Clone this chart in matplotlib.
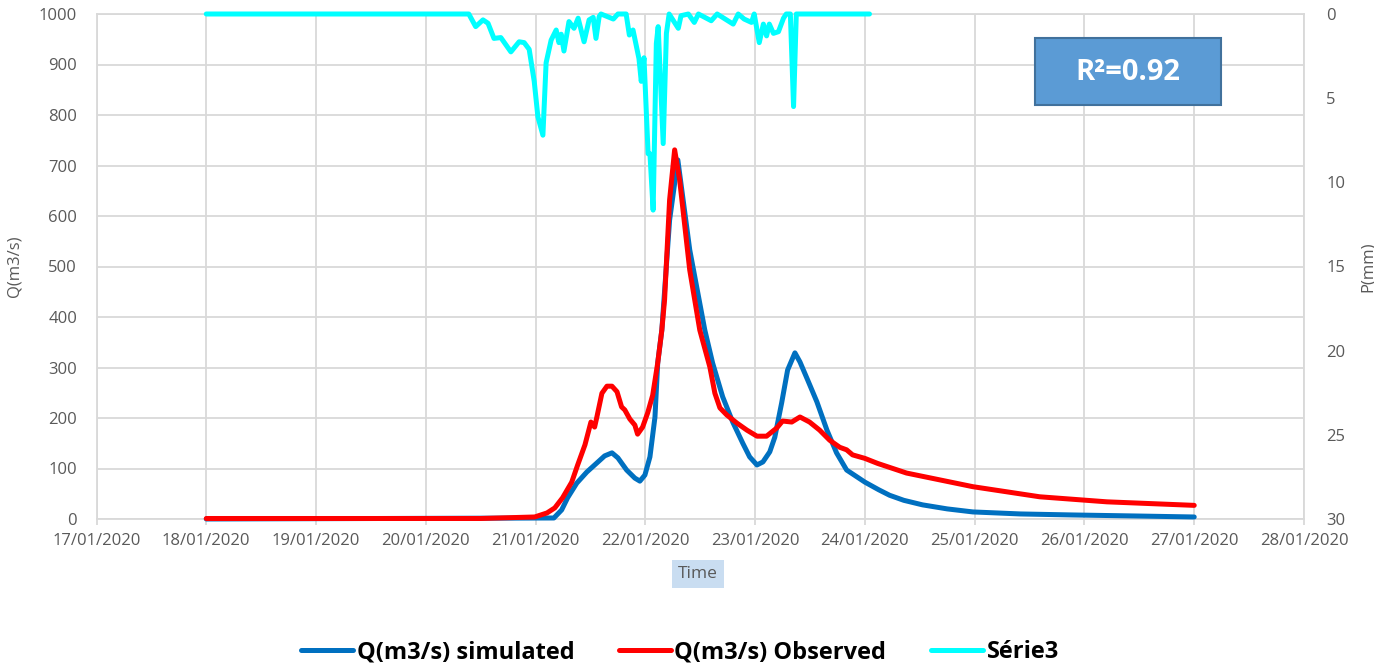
import matplotlib
matplotlib.use("Agg")
import matplotlib.pyplot as plt
import matplotlib.dates as mdates
import matplotlib.patches as mpatches
import pandas as pd

plt.rcParams['font.family'] = ['Open Sans', 'DejaVu Sans']

# ---------------- data ----------------
base = pd.Timestamp("2020-01-20 00:00")  # hours are offsets from this

obs_hours = [-48, 12, 23.8, 26.5, 28.2, 29.9, 31.9, 33.2, 34.8, 36.1, 36.9, 37.4, 38.5, 39.6,
             40.7, 41.8, 42.8, 43.5, 44.6, 45.7, 46.3, 47.4, 48.5, 49.6, 50.7, 51.6, 52.2,
             53.3, 54.4, 55.5, 57.7, 59.9, 62.1, 63.2, 64.3, 65.8, 68.0, 70.2, 72.4, 74.5,
             76.7, 78.0, 80.0, 81.8, 83.9, 86.1, 88.3, 90.5, 92.0, 93.3, 96.0, 98.8, 105.1,
             119.6, 134.2, 148.9, 168.0]
q_observed = [1, 1, 4, 12, 22, 42, 73, 107, 147, 192, 182, 202, 249, 263,
              263, 252, 222, 216, 198, 186, 168, 182, 210, 245, 309, 374, 434,
              632, 731, 671, 493, 374, 301, 249, 220, 206, 190, 176, 164, 164,
              180, 194, 192, 202, 192, 176, 156, 142, 137, 127, 120, 110, 91,
              64, 44, 34, 27]

sim_hours = [-48, 28.0, 29.7, 31.0, 33.0, 35.2, 37.4, 39.1, 40.7, 42.0, 43.9, 45.7, 46.8,
             47.9, 49.0, 50.1, 50.7, 51.6, 53.3, 55.1, 57.7, 61.0, 62.7, 64.9, 67.1,
             69.3, 70.8, 72.4, 73.7, 75.2, 76.3, 77.8, 79.1, 80.7, 81.8, 83.5, 85.5,
             87.7, 89.8, 92.0, 96.0, 99.0, 101.4, 104.5, 108.6, 114.0, 119.6, 130.0,
             141.4, 155.0, 168.0]
q_simulated = [0, 2, 18, 42, 71, 93, 111, 125, 131, 121, 97, 81, 75,
               87, 123, 202, 309, 374, 592, 711, 533, 374, 309, 242, 192,
               150, 123, 107, 113, 133, 162, 230, 295, 329, 311, 275, 232,
               176, 131, 97, 73, 58, 47, 37, 28, 20, 14, 10,
               8, 6, 4]

rain_hours = [-48, 9.4, 10.9, 12.5, 13.6, 14.9, 16.4, 18.6, 20.4, 21.5, 22.6, 23.7, 24.5,
              25.6, 26.3, 27.4, 28.5, 29.1, 29.6, 30.2, 31.3, 32.4, 33.3, 34.6, 35.7,
              36.6, 37.2, 37.9, 38.3, 41.0, 42.0, 43.8, 44.5, 45.3, 46.6, 47.1, 47.7,
              48.6, 49.0, 49.7, 50.4, 50.8, 51.9, 52.6, 53.2, 55.2, 55.8, 57.4, 58.7,
              59.6, 62.4, 63.7, 67.2, 68.3, 69.6, 71.2, 71.8, 72.9, 73.8, 74.5, 75.1,
              76.0, 77.1, 78.2, 78.8, 79.7, 80.4, 81.0, 97.0]
rain_mm = [0, 0, 0.75, 0.35, 0.55, 1.45, 1.4, 2.25, 1.65, 1.7, 2.1, 4.0, 6.1,
           7.2, 2.9, 1.55, 0.95, 1.7, 1.2, 2.2, 0.45, 0.85, 0.25, 1.65, 0.35,
           0.2, 1.45, 0.15, 0, 0.3, 0, 0, 1.25, 0.95, 2.65, 4.0, 2.6,
           8.3, 8.3, 11.65, 1.75, 0.75, 7.7, 1.15, 0, 0.85, 0.1, 0, 0.5,
           0, 0.4, 0, 0.6, 0, 0.3, 0.5, 0, 1.7, 0.6, 1.3, 0.6,
           1.15, 1.05, 0.25, 0, 0, 5.5, 0, 0]

x_start, x_end = "2020-01-17", "2020-01-28"
q_ticks = list(range(0, 1001, 100))
p_ticks = list(range(0, 31, 5))
labels = ["Q(m3/s) simulated", "Q(m3/s) Observed", "Série3"]
r2_text = "R²=0.92"

# ---------------- plot ----------------
def to_t(hours):
    return [base + pd.Timedelta(hours=h) for h in hours]

W, H = 1374, 667
fig = plt.figure(figsize=(W / 100, H / 100), dpi=100)
ax = fig.add_axes([96.5 / W, (H - 519) / H, (1304 - 96.5) / W, (519 - 14) / H])

grid_c = "#D9D9D9"
txt_c = "#595959"
LW = 3.6

l1, = ax.plot(to_t(sim_hours), q_simulated, color="#0070C0", lw=LW, clip_on=False,
              solid_capstyle="round", solid_joinstyle="round", zorder=3)
l2, = ax.plot(to_t(obs_hours), q_observed, color="#FF0000", lw=LW, clip_on=False,
              solid_capstyle="round", solid_joinstyle="round", zorder=4)

ax.set_xlim(pd.Timestamp(x_start), pd.Timestamp(x_end))
ax.set_ylim(0, 1000)
ax.set_yticks(q_ticks)
ax.xaxis.set_major_locator(mdates.DayLocator())
ax.xaxis.set_major_formatter(mdates.DateFormatter("%d/%m/%Y"))
ax.grid(True, color=grid_c, lw=1.3)
ax.set_axisbelow(True)
for s in ax.spines.values():
    s.set_color(grid_c)
    s.set_linewidth(1.3)
ax.tick_params(axis="x", length=4, width=1.3, color=grid_c, labelsize=12,
               labelcolor=txt_c, pad=6)
ax.tick_params(axis="y", length=0, labelsize=12, labelcolor=txt_c, pad=14)
ax.set_ylabel("Q(m3/s)", fontsize=12, color=txt_c)
ax.yaxis.set_label_coords((22 - 96.5) / 1207.5, 0.5)

ax2 = ax.twinx()
l3, = ax2.plot(to_t(rain_hours), rain_mm, color="#00FFFF", lw=LW, clip_on=False,
               solid_capstyle="round", solid_joinstyle="round", zorder=5)
ax2.set_ylim(30, 0)
ax2.set_yticks(p_ticks)
ax2.tick_params(axis="y", length=0, labelsize=12, labelcolor=txt_c, pad=16)
for s in ax2.spines.values():
    s.set_visible(False)
ax2.set_ylabel("P(mm)", fontsize=12, color=txt_c, rotation=90)
ax2.yaxis.set_label_coords((1360 - 96.5) / 1207.5, 0.5)
ax2.set_xlim(pd.Timestamp(x_start), pd.Timestamp(x_end))

# x label "Time" with light blue box
fig.text(698 / W, 1 - 574 / H, "Time", ha="center", va="center", fontsize=12.5, color=txt_c,
         bbox=dict(boxstyle="square,pad=0.35", fc="#C9DDF1", ec="none"))

# R² box
fig.patches.append(mpatches.Rectangle((1035 / W, 1 - 105 / H), 186 / W, 67 / H,
                                      transform=fig.transFigure, fc="#5B9BD5",
                                      ec="#41719C", lw=1.5, zorder=9))
fig.text(1128 / W, 1 - 72 / H, r2_text, ha="center", va="center", fontsize=21,
         fontweight="bold", color="white", zorder=10)

leg = fig.legend([l1, l2, l3], labels, loc="center", ncol=3,
                 bbox_to_anchor=(680 / W, 1 - 652 / H), frameon=False,
                 prop=dict(size=17, weight="bold"), handlelength=2.2,
                 handletextpad=0.15, columnspacing=1.9)

fig.savefig("out.png", dpi=100)
